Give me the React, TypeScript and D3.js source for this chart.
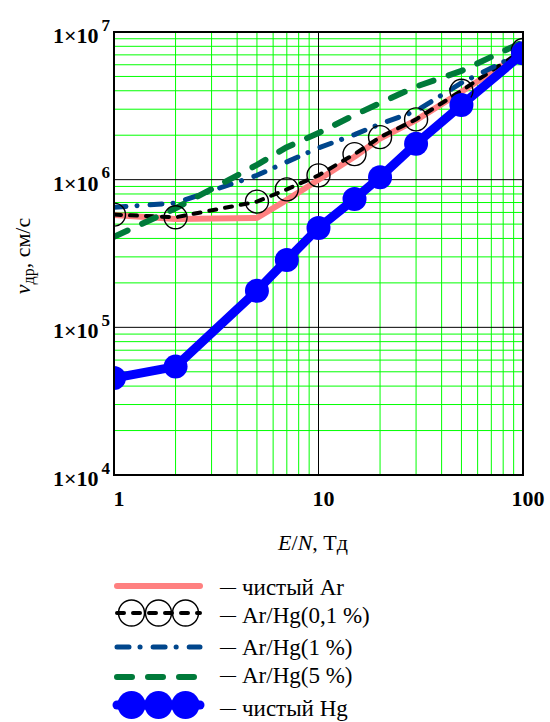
import React from "react";
import * as d3 from "d3";

// E/N, Td
const fieldValues = [1, 2, 5, 7, 10, 15, 20, 30, 50, 100];

// drift velocity, cm/s
const pureAr = [5.77e5, 5.42e5, 5.5e5, 7.3e5, 1.0e6, 1.43e6, 1.9e6, 2.53e6, 3.94e6, 7.3e6];
const arHg01 = [5.8e5, 5.56e5, 7.1e5, 8.6e5, 1.07e6, 1.49e6, 1.94e6, 2.56e6, 4.0e6, 7.55e6];
const arHg1 = [6.5e5, 6.95e5, 1.07e6, 1.32e6, 1.64e6, 2.02e6, 2.38e6, 2.92e6, 4.52e6, 7.3e6];
const arHg5 = [4.1e5, 6.4e5, 1.26e6, 1.66e6, 2.07e6, 2.74e6, 3.3e6, 4.27e6, 5.45e6, 8.56e6];
const pureHg = [4.54e4, 5.42e4, 1.77e5, 2.86e5, 4.71e5, 7.4e5, 1.04e6, 1.75e6, 3.2e6, 7.17e6];

const xTicks = [1, 10, 100];
const yExponents = [4, 5, 6, 7];

const legendLabels = ["чистый Ar", "Ar/Hg(0,1 %)", "Ar/Hg(1 %)", "Ar/Hg(5 %)", "чистый Hg"];

const W = 550;
const H = 722;
const left = 114, right = 523, top = 32, bottom = 475;
const serif = "'Liberation Serif', 'Times New Roman', serif";

function App() {
    const x = d3.scaleLog().domain([1, 100]).range([left, right]);
    const y = d3.scaleLog().domain([1e4, 1e7]).range([bottom, top]);

    const line = d3.line<[number, number]>()
        .x(d => x(d[0]))
        .y(d => y(d[1]));
    const pts = (vals: number[]) => fieldValues.map((f, i) => [f, vals[i]] as [number, number]);

    // minor grid values
    const minorX: number[] = [];
    const minorY: number[] = [];
    for (const dec of [1, 10]) for (let k = 2; k <= 9; k++) minorX.push(dec * k);
    for (const dec of [1e4, 1e5, 1e6]) for (let k = 2; k <= 9; k++) minorY.push(dec * k);

    const series = [
        {vals: pureAr, color: "#ff8080", width: 6, dash: null, cap: "butt"},
        {vals: arHg01, color: "#000", width: 4, dash: "7 9", cap: "round"},
        {vals: arHg1, color: "#00468c", width: 5, dash: "12 11 0.1 13", cap: "round"},
        {vals: arHg5, color: "#007a3a", width: 6, dash: "15 16", cap: "round"},
        {vals: pureHg, color: "#0000ff", width: 9, dash: null, cap: "butt"},
    ];

    const legendRows = [586, 613, 647, 677, 705];
    const legendBase = [595, 623, 655, 683, 716];
    const lx0 = 117, lx1 = 200;
    const legendDots = [131.5, 158.5, 185.5];

    return (
        <svg width={W} height={H} style={{position: "absolute", left: 0, top: 0, background: "#fff"}}
             fontFamily={serif}>
            <defs>
                <clipPath id="plot-clip">
                    <rect x={left} y={top} width={right - left} height={bottom - top}/>
                </clipPath>
            </defs>

            {/* grid */}
            <g>
                {minorX.map(v => (
                    <line key={"mx" + v} x1={x(v)} x2={x(v)} y1={top} y2={bottom} stroke="#00ff00" strokeWidth={1}/>
                ))}
                {minorY.map(v => (
                    <line key={"my" + v} x1={left} x2={right} y1={y(v)} y2={y(v)} stroke="#00ff00" strokeWidth={1}/>
                ))}
                {[10].map(v => (
                    <line key={"Mx" + v} x1={x(v)} x2={x(v)} y1={top} y2={bottom} stroke="#000" strokeWidth={1}/>
                ))}
                {[1e5, 1e6].map(v => (
                    <line key={"My" + v} x1={left} x2={right} y1={y(v)} y2={y(v)} stroke="#000" strokeWidth={1}/>
                ))}
            </g>

            {/* series */}
            <g clipPath="url(#plot-clip)">
                {series.map((s, i) => (
                    <path key={i} d={line(pts(s.vals)) || ""} fill="none" stroke={s.color}
                          strokeWidth={s.width} strokeDasharray={s.dash || undefined}
                          strokeLinecap={s.cap as any} strokeLinejoin="round"/>
                ))}
                {pts(arHg01).map((p, i) => (
                    <circle key={"bc" + i} cx={x(p[0])} cy={y(p[1])} r={11.5} fill="none" stroke="#000" strokeWidth={1.4}/>
                ))}
                {pts(pureHg).map((p, i) => (
                    <circle key={"hg" + i} cx={x(p[0])} cy={y(p[1])} r={12} fill="#0000ff"/>
                ))}
            </g>

            {/* frame */}
            <rect x={left} y={top} width={right - left} height={bottom - top} fill="none" stroke="#000" strokeWidth={2}/>

            {/* y ticks */}
            {yExponents.map(e => (
                <text key={"yt" + e} x={110} y={y(Math.pow(10, e)) + 11} textAnchor="end" fontWeight="bold" fontSize={22}>
                    1×10<tspan fontSize={17} dx={3} dy={-12.5}>{e}</tspan>
                </text>
            ))}

            {/* x ticks */}
            {xTicks.map(v => (
                <text key={"xt" + v} x={x(v) + 5} y={506} textAnchor="middle" fontWeight="bold" fontSize={22}>{v}</text>
            ))}

            {/* axis titles */}
            <text x={313} y={550} textAnchor="middle" fontSize={22}>
                <tspan fontStyle="italic">E</tspan>/<tspan fontStyle="italic">N</tspan>, Тд
            </text>
            <text transform="translate(30,256) rotate(-90)" textAnchor="middle" fontSize={22}>
                <tspan fontStyle="italic">v</tspan><tspan fontSize={16} dy={4}>др</tspan><tspan dy={-4}>, см/с</tspan>
            </text>

            {/* legend */}
            {series.map((s, i) => {
                const ly = legendRows[i];
                return (
                    <g key={"lg" + i}>
                        <line x1={lx0} x2={lx1} y1={ly} y2={ly} stroke={s.color} strokeWidth={s.width}
                              strokeDasharray={s.dash || undefined} strokeLinecap={s.cap === "butt" ? "round" : s.cap as any}/>
                        {i === 1 && legendDots.map(cx => (
                            <circle key={cx} cx={cx} cy={ly} r={13} fill="none" stroke="#000" strokeWidth={1.4}/>
                        ))}
                        {i === 4 && legendDots.map(cx => (
                            <circle key={cx} cx={cx} cy={ly} r={14} fill="#0000ff"/>
                        ))}
                        <text x={220} y={legendBase[i]} fontSize={23}>
                            <tspan fontSize={16} dy={-3}>—</tspan><tspan dx={6} dy={3}>{legendLabels[i]}</tspan>
                        </text>
                    </g>
                );
            })}
        </svg>
    );
}

export default App;
